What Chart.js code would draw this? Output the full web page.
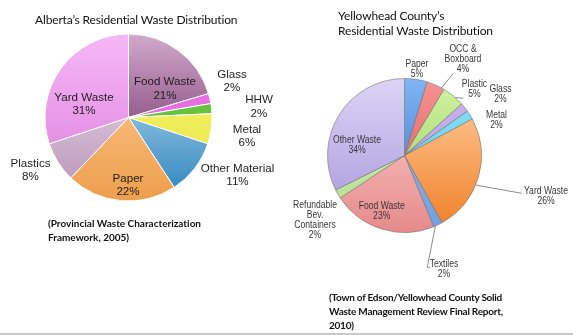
<!DOCTYPE html>
<html>
<head>
<meta charset="utf-8">
<script src="https://cdn.jsdelivr.net/npm/chart.js@4.4.1/dist/chart.umd.min.js"></script>
<style>
  body { margin: 0; background: #fff; }
  #page { position: relative; width: 573px; height: 335px; overflow: hidden; }
  canvas { position: absolute; left: 0; top: 0; }
  .title { position: absolute; font-family: Lato, 'Noto Sans', sans-serif; font-size: 12px; letter-spacing: -0.15px; line-height: 15px; color: #111; white-space: nowrap; font-variant-ligatures: none; }
  .source { position: absolute; font-family: Lato, 'Noto Sans', sans-serif; font-weight: bold; font-size: 10px; line-height: 14px; color: #111; white-space: nowrap; font-variant-ligatures: none; }
  #rule { position: absolute; left: 0; top: 333px; width: 573px; height: 2px; background: #c8c8c8; }
</style>
</head>
<body>
<div id="page">
  <canvas id="albertaChart" width="573" height="335"></canvas>
  <canvas id="yellowheadChart" width="573" height="335"></canvas>
  <div class="title" style="left:35px; top:12px;">Alberta’s Residential Waste Distribution</div>
  <div class="title" style="left:338px; top:8px;">Yellowhead County’s<br>Residential Waste Distribution</div>
  <div class="source" style="left:48px; top:216px;">(Provincial Waste Characterization<br>Framework, 2005)</div>
  <div class="source" style="left:329px; top:290px; letter-spacing:-0.25px;">(Town of Edson/Yellowhead County Solid<br>Waste Management Review Final Report,<br>2010)</div>
  <div id="rule"></div>
</div>
<script>
// Alberta, 2005 (percent of residential waste)
const albertaLabels = ['Food Waste', 'Glass', 'HHW', 'Metal', 'Other Material', 'Paper', 'Plastics', 'Yard Waste'];
const albertaValues = [21, 2, 2, 6, 11, 22, 8, 31];

// Yellowhead County, 2010 (percent of residential waste)
const yellowheadLabels = ['Paper', ['OCC &', 'Boxboard'], 'Plastic', 'Glass', 'Metal', 'Yard Waste',
    'Textiles', 'Food Waste', ['Refundable', 'Bev.', 'Containers'], 'Other Waste'];
const yellowheadValues = [5, 4, 5, 2, 2, 26, 2, 23, 2, 34];

// slice shading: colour at the top of the pie -> colour at the bottom
const albertaTop = ['#d2aacd', '#ee7cec', '#74cc4a', '#f6f66c', '#d6efff', '#ffd2a0', '#f6e8f6', '#f6b8f6'];
const albertaBottom = ['#5a1250', '#de58dc', '#56b832', '#e8e448', '#2a82ba', '#ee9e4c', '#b690b4', '#dc7cdc'];
const yellowheadTop = ['#80b6f4', '#f69494', '#d2f2a4', '#ccb8ee', '#8ce2f6', '#ffd2a4', '#9cc4f2', '#ffd4d4', '#d4f0b8', '#dcd4f6'];
const yellowheadBottom = ['#2a68c8', '#da4848', '#8ed050', '#aa90de', '#56c8ea', '#f07e26', '#709ee4', '#e68a8a', '#b4dc90', '#a494da'];

// label placement, offsets in px from the pie centre; leader lines start on the slice edge
const albertaSpots = [
    { dx: 36.5, dy: -28.5 },
    { dx: 103.5, dy: -36, leader: [[93.5, -25.5]] },
    { dx: 130.5, dy: -10.5, leader: [[113.5, -11.5]] },
    { dx: 118.5, dy: 19, leader: [[101.5, 16.5]] },
    { dx: 109, dy: 58 },
    { dx: -0.5, dy: 68 },
    { dx: -98, dy: 53, leader: [[-78, 48]] },
    { dx: -44.5, dy: -13 }
];
const yellowheadSpots = [
    { dx: 12.5, dy: -86.5 },
    { dx: 58.5, dy: -96, at: 0.85, leader: [[48.8, -82.2]] },
    { dx: 70, dy: -66, at: 0.6, leader: [[58.8, -57.2]] },
    { dx: 96, dy: -61, leader: [[88.8, -52.8]] },
    { dx: 92, dy: -35.5, leader: [[80.5, -38.2]] },
    { dx: 141.5, dy: 41, at: 0.57, leader: [[117.2, 37.8]] },
    { dx: 39.5, dy: 113.5, at: 0.8, leader: [[22.8, 111.8], [25.5, 111.8]] },
    { dx: -22.8, dy: 55.8 },
    { dx: -89.5, dy: 64.5 },
    { dx: -47.5, dy: -10.5 }
];

function shaded(tops, bottoms) {
    return (c) => {
        const area = c.chart.chartArea;
        if (!area) return tops[c.dataIndex];
        const g = c.chart.ctx.createLinearGradient(0, area.top, 0, area.bottom);
        g.addColorStop(0, tops[c.dataIndex]);
        g.addColorStop(1, bottoms[c.dataIndex]);
        return g;
    };
}

// draws "name / value%" blocks and leader lines next to each slice
const pieLabels = {
    id: 'pieLabels',
    afterDatasetsDraw(chart, args, opts) {
        const ctx = chart.ctx;
        const meta = chart.getDatasetMeta(0);
        const values = chart.data.datasets[0].data;
        const squeeze = opts.squeeze || 1;
        ctx.save();
        ctx.font = opts.font;
        ctx.fillStyle = opts.color;
        ctx.strokeStyle = opts.lineColor;
        ctx.lineWidth = 1;
        ctx.textAlign = 'center';
        ctx.textBaseline = 'middle';
        meta.data.forEach((arc, i) => {
            const spot = opts.spots[i];
            const p = arc.getProps(['x', 'y', 'startAngle', 'endAngle', 'outerRadius'], true);
            if (spot.leader) {
                const t = spot.at ?? 0.5;
                const a = p.startAngle + (p.endAngle - p.startAngle) * t;
                ctx.beginPath();
                ctx.moveTo(p.x + Math.cos(a) * p.outerRadius, p.y + Math.sin(a) * p.outerRadius);
                spot.leader.forEach(([lx, ly]) => ctx.lineTo(p.x + lx, p.y + ly));
                ctx.stroke();
            }
            const lines = [].concat(chart.data.labels[i], values[i] + '%');
            const top = p.y + spot.dy - (lines.length - 1) * opts.lineHeight / 2;
            lines.forEach((line, k) => {
                ctx.save();
                ctx.translate(p.x + spot.dx, top + k * opts.lineHeight);
                ctx.scale(squeeze, 1);
                ctx.fillText(line, 0, 0);
                ctx.restore();
            });
        });
        ctx.restore();
    }
};

function createPie(canvasId, labels, values, tops, bottoms, padding, border, labelOpts) {
    const ctx = document.getElementById(canvasId).getContext('2d');
    return new Chart(ctx, {
        type: 'pie',
        data: {
            labels: labels,
            datasets: [{
                data: values,
                backgroundColor: shaded(tops, bottoms),
                borderColor: border.color,
                borderWidth: border.width
            }]
        },
        options: {
            responsive: false,
            animation: false,
            layout: { padding: padding },
            plugins: {
                legend: { display: false },
                tooltip: { enabled: false },
                pieLabels: labelOpts
            }
        },
        plugins: [pieLabels]
    });
}

createPie('albertaChart', albertaLabels, albertaValues, albertaTop, albertaBottom,
    { left: 44.5, right: 360.5, top: 33.5, bottom: 133.5 },
    { color: '#ffffff', width: 1 },
    { spots: albertaSpots, font: '11.6px "Liberation Sans", Arial, sans-serif', lineHeight: 13.5, color: '#1e1e1e', lineColor: '#8a8a8a' });

createPie('yellowheadChart', yellowheadLabels, yellowheadValues, yellowheadTop, yellowheadBottom,
    { left: 327, right: 91, top: 78, bottom: 102 },
    { color: 'rgba(110,110,110,0.55)', width: 1 },
    { spots: yellowheadSpots, font: '10px "Liberation Sans", Arial, sans-serif', squeeze: 0.86, lineHeight: 10, color: '#383838', lineColor: '#8c8c8c' });
</script>
</body>
</html>
